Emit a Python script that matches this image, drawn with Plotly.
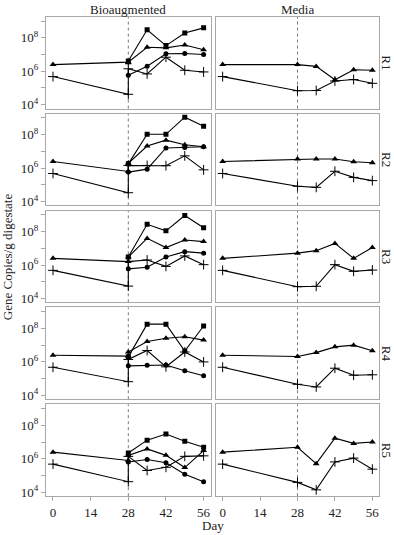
import plotly.graph_objects as go

# ---------------- data ----------------
reactors = ["R1", "R2", "R3", "R4", "R5"]
days_bio_tp = [0, 28, 28, 35, 42, 49, 56]   # triangle / plus (pre and post augmentation at day 28)
days_bio_sc = [28, 35, 42, 49, 56]          # square / circle (added at day 28)
days_media = [0, 28, 35, 42, 49, 56]
x_ticks = [0, 14, 28, 42, 56]
y_tickvals = [1e4, 1e5, 1e6, 1e7, 1e8, 1e9]
y_ticktext = ["10<sup>4</sup>", " ", "10<sup>6</sup>", " ", "10<sup>8</sup>", " "]

bio_triangle = {
    "R1": [2.5e6, 3.2e6, 3.5e6, 2.7e7, 2.5e7, 3.7e7, 1.9e7],
    "R2": [2.5e6, 6.3e5, 1.95e6, 2.1e7, 4.7e7, 2.5e7, 1.9e7],
    "R3": [2.5e6, 1.6e6, 3.0e6, 3.9e7, 1.1e7, 3.1e7, 2.5e7],
    "R4": [2.5e6, 2.2e6, 3.9e6, 1.65e7, 2.6e7, 3.2e7, 2.0e7],
    "R5": [2.5e6, 7.9e5, 1.6e6, 3.9e6, 1.6e6, 3.0e5, 3.1e6],
}
bio_plus = {
    "R1": [4.8e5, 4.2e4, 1.4e6, 6.9e5, 6.9e6, 1.15e6, 9.1e5],
    "R2": [4.8e5, 3.4e4, 1.45e6, 1.45e6, 1.4e6, 5.4e6, 7.9e5],
    "R3": [4.8e5, 5.5e4, 1.6e6, 2.0e6, 8.3e5, 3.5e6, 1.05e6],
    "R4": [4.8e5, 6.6e4, 1.4e6, 4.8e6, 5.1e5, 3.9e6, 1.0e6],
    "R5": [4.8e5, 4.3e4, 1.4e6, 2.0e5, 3.1e5, 1.4e6, 1.5e6],
}
bio_square = {
    "R1": [4.1e6, 3.0e8, 3.4e7, 1.9e8, 3.9e8],
    "R2": [1.8e6, 1.05e8, 1.05e8, 1.1e9, 3.2e8],
    "R3": [3.0e6, 2.7e8, 1.1e8, 9.1e8, 1.7e8],
    "R4": [2.0e6, 1.8e8, 1.8e8, 4.5e6, 1.4e8],
    "R5": [2.2e6, 1.3e7, 3.0e7, 1.1e7, 4.9e6],
}
bio_circle = {
    "R1": [5.8e5, 2.0e6, 1.1e7, 1.15e7, 1.0e7],
    "R2": [5.8e5, 8.7e5, 1.6e7, 1.7e7, 1.9e7],
    "R3": [5.9e5, 7.4e5, 3.0e6, 6.3e6, 5.1e6],
    "R4": [5.8e5, 6.3e5, 6.6e5, 3.0e5, 1.5e5],
    "R5": [6.5e5, 9.1e5, 5.8e5, 1.2e5, 4.3e4],
}
media_triangle = {
    "R1": [2.5e6, 2.5e6, 1.95e6, 3.1e5, 1.23e6, 1.15e6],
    "R2": [2.5e6, 3.5e6, 3.5e6, 3.5e6, 2.4e6, 2.1e6],
    "R3": [2.5e6, 5.1e6, 7.2e6, 1.95e7, 2.5e6, 1.1e7],
    "R4": [2.5e6, 2.1e6, 3.6e6, 7.9e6, 1.0e7, 4.6e6],
    "R5": [2.5e6, 4.9e6, 5.1e5, 1.7e7, 8.3e6, 1.0e7],
}
media_plus = {
    "R1": [4.8e5, 6.9e4, 7.1e4, 2.6e5, 3.2e5, 1.9e5],
    "R2": [4.8e5, 8.3e4, 7.1e4, 6.5e5, 2.8e5, 1.8e5],
    "R3": [4.8e5, 5.1e4, 5.4e4, 1.05e6, 4.2e5, 5.0e5],
    "R4": [4.8e5, 4.6e4, 3.2e4, 4.2e5, 1.6e5, 1.7e5],
    "R5": [4.8e5, 3.9e4, 1.4e4, 6.5e5, 1.1e6, 2.4e5],
}
col_titles = ["Bioaugmented", "Media"]

# ---------------- layout geometry ----------------
W, H = 394, 535
FONT = "Liberation Serif, Times New Roman, serif"
col_px = [(46.0, 210.6), (215.7, 379.3)]
row_top = [14.0 + 98.17 * i for i in range(5)]
PANEL_H = 93.0
X_RANGE = [-2.6, 58.6]
Y_RANGE = [3.77, 9.25]
BORDER = "#a8a8a8"

def fx(px):
    return px / W

def fy(py):
    return 1 - py / H

fig = go.Figure()

markers = {
    "tri": dict(symbol="triangle-up", size=6, color="black", line=dict(width=0)),
    "sq": dict(symbol="square", size=5, color="black", line=dict(width=0)),
    "ci": dict(symbol="circle", size=5, color="black", line=dict(width=0)),
    "pl": dict(symbol="cross-thin", size=7, color="black", line=dict(width=1, color="black")),
}

def add(xs, ys, mk, n):
    fig.add_trace(go.Scatter(
        x=xs, y=ys, mode="lines+markers",
        line=dict(color="black", width=1.1),
        marker=markers[mk], showlegend=False, hoverinfo="skip",
        xaxis="x" if n == 1 else f"x{n}", yaxis="y" if n == 1 else f"y{n}",
    ))

layout_axes = {}
shapes = []
annotations = []
n = 0
for r, rname in enumerate(reactors):
    for c in range(2):
        n += 1
        if c == 0:
            add(days_bio_tp, bio_triangle[rname], "tri", n)
            add(days_bio_sc, bio_square[rname], "sq", n)
            add(days_bio_sc, bio_circle[rname], "ci", n)
            add(days_bio_tp, bio_plus[rname], "pl", n)
        else:
            add(days_media, media_triangle[rname], "tri", n)
            add(days_media, media_plus[rname], "pl", n)
        xname = "xaxis" if n == 1 else f"xaxis{n}"
        yname = "yaxis" if n == 1 else f"yaxis{n}"
        xid = "x" if n == 1 else f"x{n}"
        yid = "y" if n == 1 else f"y{n}"
        bottom = r == 4
        left = c == 0
        x0, x1 = col_px[c]
        top = row_top[r]
        layout_axes[xname] = dict(
            domain=[fx(x0), fx(x1)], range=X_RANGE, anchor=yid,
            showline=True, mirror=True, linecolor=BORDER, linewidth=1,
            showgrid=False, zeroline=False,
            tickvals=x_ticks, ticks="outside" if bottom else "", ticklen=4,
            tickcolor=BORDER, showticklabels=bottom,
            tickfont=dict(family=FONT, size=13, color="#222"),
        )
        layout_axes[yname] = dict(
            domain=[fy(top + PANEL_H), fy(top)], type="log", range=Y_RANGE, anchor=xid,
            showline=True, mirror=True, linecolor=BORDER, linewidth=1,
            showgrid=False, zeroline=False,
            tickvals=y_tickvals, ticktext=y_ticktext,
            ticks="outside" if left else "", ticklen=4, tickcolor=BORDER,
            showticklabels=left,
            tickfont=dict(family=FONT, size=13, color="#222"),
        )
        shapes.append(dict(
            type="line", xref=xid, yref=f"{yid} domain", x0=28, x1=28, y0=0, y1=1,
            line=dict(color="#555", width=0.8, dash="dot"), layer="below",
        ))
    annotations.append(dict(
        text=rname, x=fx(386.5), y=fy(row_top[r] + PANEL_H / 2), xref="paper", yref="paper",
        showarrow=False, textangle=90, xanchor="center", yanchor="middle",
        font=dict(family=FONT, size=13, color="#222"),
    ))

for c, t in enumerate(col_titles):
    x0, x1 = col_px[c]
    annotations.append(dict(
        text=t, x=fx((x0 + x1) / 2), y=fy(6.5), xref="paper", yref="paper",
        showarrow=False, xanchor="center", yanchor="middle",
        font=dict(family=FONT, size=13, color="#222"),
    ))

annotations.append(dict(
    text="Day", x=fx(213), y=fy(529.5), xref="paper", yref="paper",
    showarrow=False, xanchor="center", yanchor="middle",
    font=dict(family=FONT, size=13, color="#222"),
))
annotations.append(dict(
    text="Gene Copies/g digestate", x=fx(7.5), y=fy(257), xref="paper", yref="paper",
    showarrow=False, textangle=-90, xanchor="center", yanchor="middle",
    font=dict(family=FONT, size=13, color="#222"),
))

fig.update_layout(
    width=W, height=H,
    margin=dict(l=0, r=0, t=0, b=0),
    paper_bgcolor="white", plot_bgcolor="white",
    shapes=shapes, annotations=annotations,
    hovermode=False,
    **layout_axes,
)

fig.write_html(
    "out.html",
    config={"displayModeBar": False, "staticPlot": True},
    post_script="document.body.style.margin='0';document.body.style.overflow='hidden';",
)
